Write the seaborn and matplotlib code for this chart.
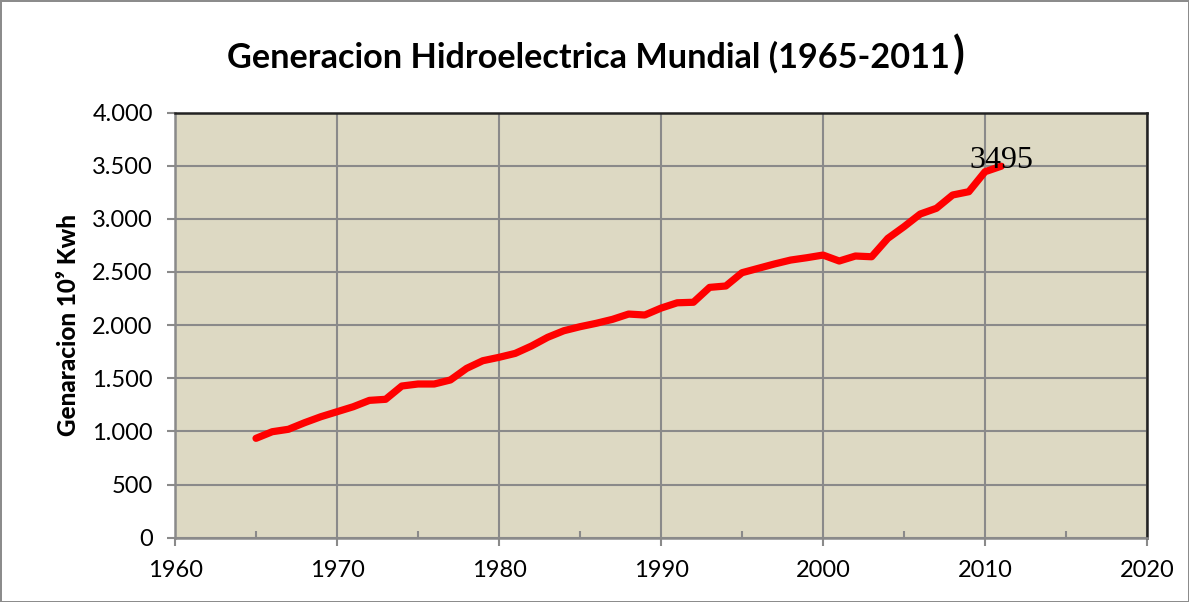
import numpy as np
import pandas as pd
import matplotlib
matplotlib.use('Agg')
import matplotlib.pyplot as plt
from matplotlib.ticker import FuncFormatter, MultipleLocator
import seaborn as sns

# world hydro generation, 10^9 kWh
years = list(range(1965, 2012))
generation = [935, 997, 1020, 1082, 1138, 1185, 1232, 1292, 1302, 1427,
              1446, 1446, 1484, 1593, 1665, 1697, 1734, 1803, 1885, 1947,
              1985, 2017, 2054, 2104, 2095, 2160, 2210, 2215, 2355, 2368,
              2493, 2534, 2575, 2612, 2634, 2659, 2603, 2650, 2643, 2816,
              2926, 3045, 3099, 3224, 3255, 3443, 3495]
last_label = '3495'

df = pd.DataFrame({'year': years, 'gen': generation})

sns.set_style('white')
plt.rcParams['font.family'] = ['Lato', 'DejaVu Sans']
plt.rcParams['text.color'] = 'black'
plt.rcParams['axes.labelcolor'] = 'black'

fig = plt.figure(figsize=(11.89, 6.02), dpi=100)
fig.patch.set_edgecolor('#8c8c8c')
fig.patch.set_linewidth(2)
ax = fig.add_axes([0.1472, 0.1068, 0.8175, 0.7063])
ax.set_facecolor('#ddd9c3')

sns.lineplot(data=df, x='year', y='gen', ax=ax, color='#ff0000', linewidth=5.2,
             solid_capstyle='round', solid_joinstyle='round')

ax.set_xlim(1960, 2020)
ax.set_ylim(0, 4000)
ax.xaxis.set_major_locator(MultipleLocator(10))
ax.xaxis.set_minor_locator(MultipleLocator(5))
ax.yaxis.set_major_locator(MultipleLocator(500))
ax.yaxis.set_major_formatter(FuncFormatter(lambda v, p: f'{int(v):,}'.replace(',', '.')))

ax.grid(True, which='major', color='#8a8a8a', linewidth=1.5)
ax.set_axisbelow(True)
ax.tick_params(axis='both', which='major', direction='out', length=6, width=1.5,
               color='#8a8a8a', labelcolor='black', labelsize=17, pad=10)
ax.tick_params(axis='x', which='minor', direction='in', length=5, width=1.5,
               color='#8a8a8a', bottom=True)
ax.tick_params(axis='x', which='major', bottom=True)
ax.tick_params(axis='y', which='major', left=True)

for side in ['left', 'bottom']:
    ax.spines[side].set_color('#8a8a8a')
    ax.spines[side].set_linewidth(1.8)
for side in ['top', 'right']:
    ax.spines[side].set_color('#222222')
    ax.spines[side].set_linewidth(1.8)

ax.set_xlabel('')
ax.set_ylabel('Genaracion 10⁹ Kwh', fontsize=17.5, fontweight='black', labelpad=9)

ax.text(years[-1], generation[-1] - 20, last_label, fontsize=23,
        family='Liberation Serif', ha='center', va='baseline')

fig.text(0.4945, 0.905, 'Generacion Hidroelectrica Mundial (1965-2011', fontsize=24.7,
         fontweight='bold', ha='center', va='center')
fig.text(0.806, 0.91, ')', fontsize=31, fontweight='bold', ha='center', va='center')

fig.savefig('out.png', dpi=100, edgecolor=fig.get_edgecolor())
